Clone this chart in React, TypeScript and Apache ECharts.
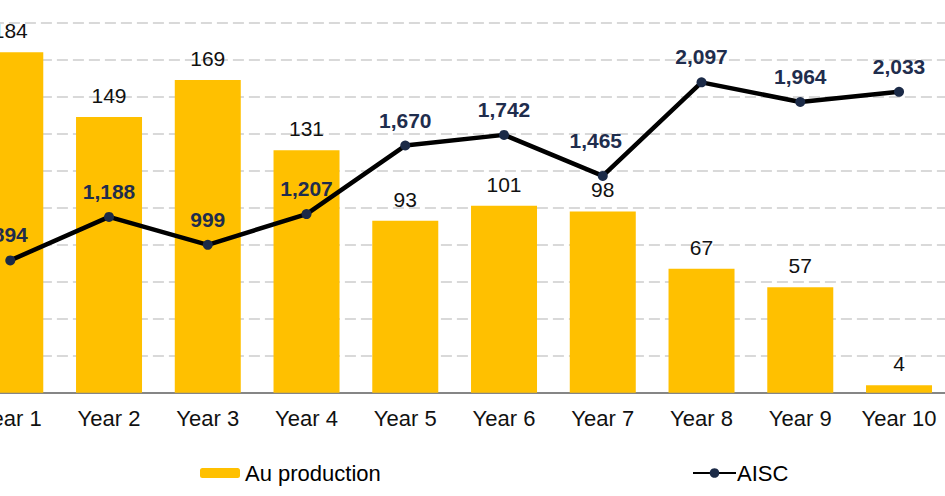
import React, { useEffect, useRef } from "react";
import * as echarts from "echarts";

const categories = ["Year 1", "Year 2", "Year 3", "Year 4", "Year 5", "Year 6", "Year 7", "Year 8", "Year 9", "Year 10"];
const auProduction = [184, 149, 169, 131, 93, 101, 98, 67, 57, 4];
const aisc = [894, 1188, 999, 1207, 1670, 1742, 1465, 2097, 1964, 2033];

const FONT = "'Liberation Sans', Arial, sans-serif";
const OFFSET = 100;

export default function App() {
  const ref = useRef<HTMLDivElement>(null);
  useEffect(() => {
    if (!ref.current) return;
    const chart = echarts.init(ref.current, null, { renderer: "svg" });
    const aiscData = aisc.map((v, i) =>
      categories[i] === "Year 7"
        ? { value: v, label: { distance: 20, offset: [-7, 0] } }
        : v
    );
    chart.setOption({
      animation: false,
      backgroundColor: "#ffffff",
      textStyle: { fontFamily: FONT },
      grid: { left: OFFSET - 39.1, top: 22.7, width: 987.5, height: 370 },
      legend: [
        {
          data: ["Au production"],
          left: OFFSET + 200,
          top: 462,
          itemWidth: 40,
          itemHeight: 10,
          itemGap: 5,
          textStyle: { fontFamily: FONT, fontSize: 22, color: "#000" },
          padding: 0,
        },
        {
          data: ["AISC"],
          left: OFFSET + 692,
          top: 462,
          itemWidth: 43,
          itemHeight: 12,
          textStyle: { fontFamily: FONT, fontSize: 22, color: "#000", padding: [0, 0, 0, -4] },
          padding: 0,
        },
      ],
      xAxis: {
        type: "category",
        data: categories,
        boundaryGap: true,
        axisLine: { show: true, lineStyle: { color: "#868686", width: 2 } },
        axisTick: { show: false },
        axisLabel: { fontFamily: FONT, fontSize: 22, color: "#111", margin: 15 },
      },
      yAxis: [
        {
          type: "value",
          min: 0,
          max: 200,
          interval: 20,
          axisLabel: { show: false },
          axisLine: { show: false },
          axisTick: { show: false },
          splitLine: { show: true, lineStyle: { color: "#d9d9d9", width: 2, type: [11, 5] } },
        },
        {
          type: "value",
          min: 0,
          max: 2500,
          interval: 250,
          axisLabel: { show: false },
          axisLine: { show: false },
          axisTick: { show: false },
          splitLine: { show: false },
        },
      ],
      series: [
        {
          name: "Au production",
          type: "bar",
          data: auProduction,
          yAxisIndex: 0,
          barWidth: 66,
          itemStyle: { color: "#FFC000" },
          label: {
            show: true,
            position: "top",
            distance: 11,
            fontFamily: FONT,
            fontSize: 21,
            color: "#111",
          },
        },
        {
          name: "AISC",
          type: "line",
          data: aiscData,
          yAxisIndex: 1,
          symbol: "circle",
          symbolSize: 10,
          lineStyle: { color: "#000", width: 4.5 },
          itemStyle: { color: "#1B2A47", borderWidth: 0 },
          z: 5,
          label: {
            show: true,
            position: "top",
            distance: 10,
            fontFamily: FONT,
            fontSize: 21,
            fontWeight: "bold",
            color: "#1F2D4D",
            formatter: (p: any) => Number(p.value).toLocaleString("en-US"),
          },
        },
      ],
    });
    return () => chart.dispose();
  }, []);
  return (
    <div style={{ position: "fixed", left: 0, top: 0, width: 945, height: 496, overflow: "hidden", background: "#fff" }}>
      <div ref={ref} style={{ position: "absolute", left: -OFFSET, top: 0, width: 945 + 2 * OFFSET, height: 496 }} />
    </div>
  );
}
